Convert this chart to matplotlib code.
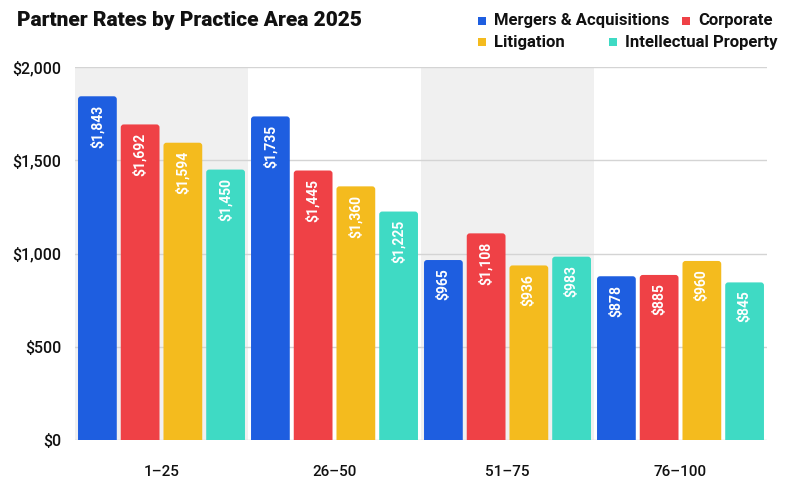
import matplotlib
matplotlib.use("Agg")
import matplotlib.pyplot as plt
from matplotlib.patches import FancyBboxPatch, Rectangle
import numpy as np

plt.rcParams['font.family'] = ['Roboto', 'DejaVu Sans']

categories = ["1–25", "26–50", "51–75", "76–100"]
series_names = ["Mergers & Acquisitions", "Corporate", "Litigation", "Intellectual Property"]
ma = [1843, 1735, 965, 878]
corporate = [1692, 1445, 1108, 885]
litigation = [1594, 1360, 936, 960]
ip = [1450, 1225, 983, 845]
series = [ma, corporate, litigation, ip]
colors = ["#1e5ee0", "#ef4146", "#f4bb1e", "#3fdac4"]
yticks = [0, 500, 1000, 1500, 2000]
ytick_labels = ["$0", "$500", "$1,000", "$1,500", "$2,000"]

fig = plt.figure(figsize=(8, 4.88), dpi=100)
ax = fig.add_axes([75/800, 1-440/488, (767-75)/800, (440-67)/488])
ax.set_xlim(-0.5, len(categories)-0.5)
ax.set_ylim(0, 2000)

# alternating shaded bands
for i in range(len(categories)):
    if i % 2 == 0:
        ax.axvspan(i-0.5, i+0.5, color="#f0f0f0", zorder=0, lw=0)

for y in yticks:
    ax.axhline(y, color="#d4d4d4", lw=1, zorder=1)

slot = 0.247
bw = 0.224
x = np.arange(len(categories))
px_x = (767-75)/4.0  # px per data unit
px_y = (440-67)/2000.0
r_px = 3.0
rx = r_px/px_x
aspect = (r_px/px_y)/rx
for j, (vals, c) in enumerate(zip(series, colors)):
    offs = (j-1.5)*slot
    bars = ax.bar(x+offs, vals, width=bw, color=c, alpha=0, zorder=2)
    for b, v in zip(bars, vals):
        p = FancyBboxPatch((b.get_x(), -40), b.get_width(), v+40,
                           boxstyle=f"round,pad=0,rounding_size={rx}",
                           mutation_aspect=aspect, fc=c, ec="none", zorder=3,
                           clip_on=True)
        ax.add_patch(p)
        ax.annotate(f"${v:,}", (b.get_x()+b.get_width()/2, v), xytext=(0, -6),
                    textcoords="offset points", rotation=90, ha="center", va="top",
                    color="white", fontsize=10, fontweight="bold", zorder=4)

ax.set_xticks(x)
ax.set_xticklabels(categories, fontsize=11, fontweight="medium", color="#111111")
ax.set_yticks(yticks)
ax.set_yticklabels(ytick_labels, fontsize=11.5, fontweight="medium", color="#111111")
ax.tick_params(axis="both", length=0)
ax.tick_params(axis="x", pad=18)
ax.tick_params(axis="y", pad=10)
for s in ax.spines.values():
    s.set_visible(False)

fig.text(17/800, 1-21/488, "Partner Rates by Practice Area 2025", fontsize=15,
         fontweight="heavy", color="#111111", va="center", ha="left")

# legend (manual flow layout)
leg_pos = [(478, 21), (682, 21), (478, 42), (609, 42)]
for (lx, ly), name, c in zip(leg_pos, series_names, colors):
    fig.patches.append(Rectangle((lx/800, 1-(ly+4)/488), 8/800, 8/488,
                                 transform=fig.transFigure, fc=c, ec="none"))
    fig.text((lx+16)/800, 1-ly/488, name, fontsize=12, fontweight="bold",
             color="#111111", va="center", ha="left")

fig.savefig("out.png", dpi=100)
